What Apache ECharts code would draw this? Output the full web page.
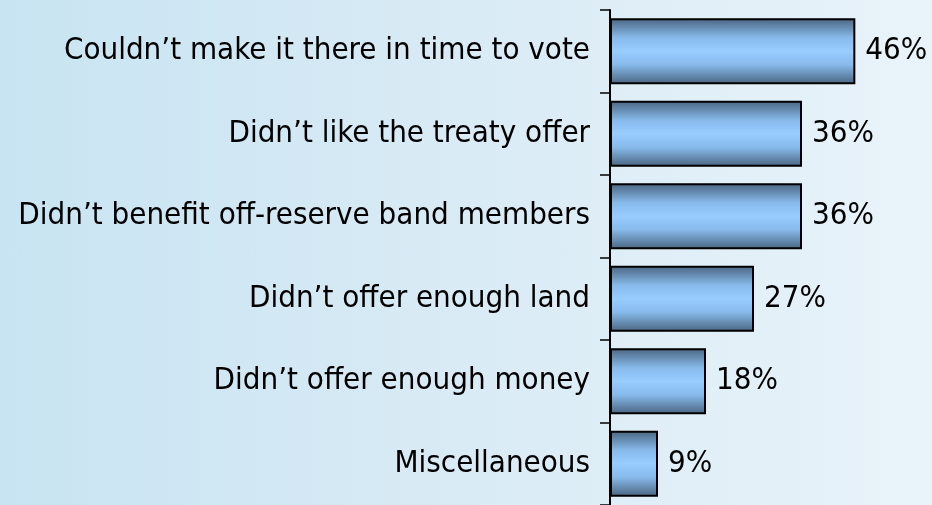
<!DOCTYPE html>
<html>
<head>
<meta charset="utf-8">
<script src="https://cdn.jsdelivr.net/npm/echarts@6/dist/echarts.min.js"></script>
<style>
  html, body { margin: 0; padding: 0; }
  #chart {
    width: 932px;
    height: 505px;
    background: linear-gradient(to right, #c8e4f2 0%, #d9ebf5 50%, #e9f3fa 100%);
  }
</style>
</head>
<body>
<div id="chart"></div>
<script>
// categories top to bottom (reversed on the axis below)
const categories = [
  'Couldn\u2019t make it there in time to vote',
  'Didn\u2019t like the treaty offer',
  'Didn\u2019t benefit off-reserve band members',
  'Didn\u2019t offer enough land',
  'Didn\u2019t offer enough money',
  'Miscellaneous'
]
const percents = [46, 36, 36, 27, 18, 9]

const FONT = '"DejaVu Sans Condensed", "DejaVu Sans", sans-serif'

const chart = echarts.init(document.getElementById('chart'))

// dark edges, light band in the middle
const barFill = new echarts.graphic.LinearGradient(0, 0, 0, 1, [
  { offset: 0, color: '#4a6480' },
  { offset: 0.3, color: '#88bbec' },
  { offset: 0.5, color: '#99ccff' },
  { offset: 0.7, color: '#88bbec' },
  { offset: 1, color: '#4a6480' }
])

const option = {
  animation: false,
  grid: { left: 610, top: 10, width: 320, height: 499 },
  xAxis: {
    type: 'value',
    min: 0,
    max: 60,
    show: false
  },
  yAxis: {
    type: 'category',
    inverse: true,
    data: categories,
    axisLine: { show: true, lineStyle: { color: '#000', width: 2 } },
    axisTick: { show: true, length: 10, lineStyle: { color: '#000', width: 1.5 } },
    axisLabel: {
      margin: 20,
      color: '#000',
      fontSize: 31,
      fontFamily: FONT
    },
    splitLine: { show: false }
  },
  series: [{
    type: 'bar',
    data: percents,
    barCategoryGap: '20%',
    itemStyle: { color: barFill, borderColor: '#000', borderWidth: 2 },
    label: {
      show: true,
      position: 'right',
      distance: 10,
      color: '#000',
      fontSize: 31,
      fontFamily: FONT,
      formatter: p => p.value + '%'
    }
  }]
}

chart.setOption(option)
</script>
</body>
</html>
